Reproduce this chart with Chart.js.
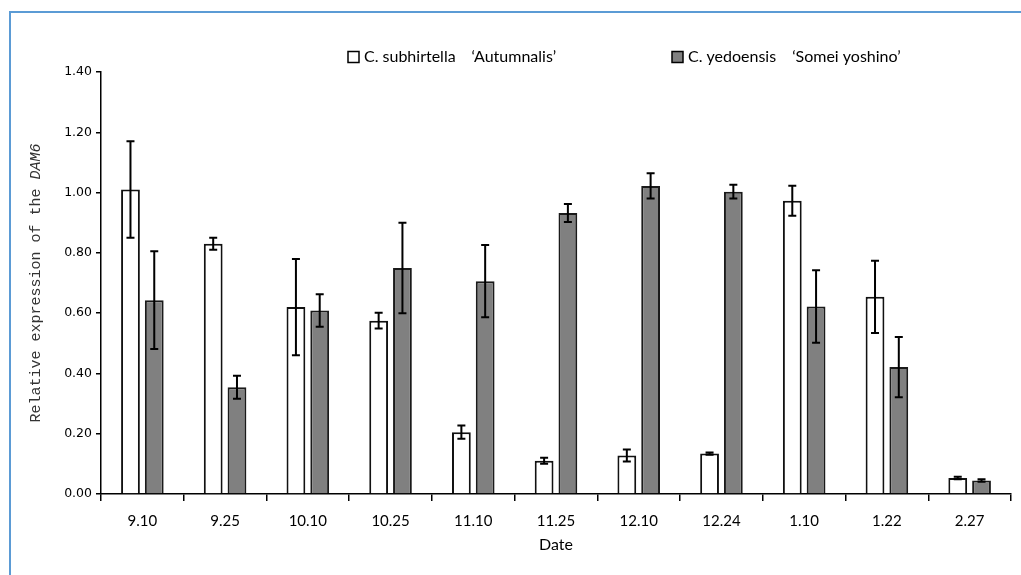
<!DOCTYPE html>
<html>
<head>
<meta charset="utf-8">
<script src="https://cdn.jsdelivr.net/npm/chart.js@4/dist/chart.umd.min.js"></script>
<style>
  html, body { margin: 0; padding: 0; background: #fff; }
  #wrap { position: relative; width: 1021px; height: 575px; overflow: hidden; }
  #frame { position: absolute; left: 9px; top: 11px; width: 1030px; height: 600px;
           border-top: 2px solid #5b9bd5; border-left: 2px solid #5b9bd5; box-sizing: border-box; }
  canvas { position: absolute; left: 0; top: 0; }
</style>
</head>
<body>
<div id="wrap">
  <div id="frame"></div>
  <canvas id="c" width="1021" height="575"></canvas>
</div>
<script>
const categories = ['9.10','9.25','10.10','10.25','11.10','11.25','12.10','12.24','1.10','1.22','2.27'];
const seriesNames = ['C. subhirtella\u3000\u2018Autumnalis\u2019', 'C. yedoensis\u3000\u2018Somei yoshino\u2019'];
const autumnalis = [1.01, 0.83, 0.62, 0.575, 0.205, 0.11, 0.128, 0.134, 0.973, 0.654, 0.053];
const autumnalisErr = [0.16, 0.02, 0.16, 0.026, 0.022, 0.01, 0.02, 0.004, 0.05, 0.12, 0.004];
const someiYoshino = [0.643, 0.354, 0.609, 0.75, 0.706, 0.932, 1.022, 1.003, 0.622, 0.421, 0.045];
const someiYoshinoErr = [0.162, 0.038, 0.054, 0.15, 0.12, 0.03, 0.042, 0.023, 0.12, 0.10, 0.004];
const yTitleMain = 'Relative expression of the ';
const yTitleItalic = 'DAM6';
const xTitle = 'Date';

const errorBars = {
  id: 'errorBars',
  afterDatasetsDraw(chart) {
    const ctx = chart.ctx;
    const ys = chart.scales.y;
    ctx.save();
    ctx.strokeStyle = '#000';
    ctx.lineWidth = 2;
    chart.data.datasets.forEach((ds, i) => {
      const meta = chart.getDatasetMeta(i);
      meta.data.forEach((el, j) => {
        const v = ds.data[j], e = ds.errors[j];
        const yt = ys.getPixelForValue(v + e);
        const yb = ys.getPixelForValue(v - e);
        const x = el.x;
        ctx.beginPath();
        ctx.moveTo(x, yt); ctx.lineTo(x, yb);
        ctx.moveTo(x - 4, yt); ctx.lineTo(x + 4, yt);
        ctx.moveTo(x - 4, yb); ctx.lineTo(x + 4, yb);
        ctx.stroke();
      });
    });
    ctx.restore();
  }
};

const yTitlePlugin = {
  id: 'yTitlePlugin',
  afterDraw(chart) {
    const ctx = chart.ctx;
    const a = chart.chartArea;
    ctx.save();
    ctx.translate(36, (a.top + a.bottom) / 2);
    ctx.rotate(-Math.PI / 2);
    ctx.fillStyle = '#333';
    ctx.textBaseline = 'middle';
    const f1 = '15px "Liberation Mono", monospace';
    const f2 = 'italic 15px "Liberation Mono", monospace';
    ctx.font = f1; const w1 = ctx.measureText(yTitleMain).width;
    ctx.font = f2; const w2 = ctx.measureText(yTitleItalic).width;
    let x = -(w1 + w2) / 2;
    ctx.font = f1; ctx.textAlign = 'left'; ctx.fillText(yTitleMain, x, 0);
    ctx.font = f2; ctx.fillText(yTitleItalic, x + w1, 0);
    ctx.restore();
  }
};

const legendPlugin = {
  id: 'legendPlugin',
  afterDraw(chart) {
    const ctx = chart.ctx;
    ctx.save();
    ctx.font = '16px Lato, "Open Sans", sans-serif';
    ctx.textBaseline = 'middle';
    ctx.textAlign = 'left';
    const starts = [348, 672];
    const yc = 57;
    chart.data.datasets.forEach((ds, i) => {
      const x = starts[i];
      ctx.fillStyle = ds.backgroundColor;
      ctx.fillRect(x, yc - 5.5, 11, 11);
      ctx.strokeStyle = '#000';
      ctx.lineWidth = 1.5;
      ctx.strokeRect(x, yc - 5.5, 11, 11);
      ctx.fillStyle = '#000';
      ctx.fillText(ds.label, x + 16, yc);
    });
    ctx.restore();
  }
};

new Chart(document.getElementById('c'), {
  type: 'bar',
  data: {
    labels: categories,
    datasets: [
      { label: seriesNames[0], data: autumnalis, errors: autumnalisErr,
        backgroundColor: '#ffffff', borderColor: '#111', borderWidth: 2,
        categoryPercentage: 0.575, barPercentage: 0.79 },
      { label: seriesNames[1], data: someiYoshino, errors: someiYoshinoErr,
        backgroundColor: '#808080', borderColor: '#1a1a1a', borderWidth: 2,
        categoryPercentage: 0.575, barPercentage: 0.79 }
    ]
  },
  options: {
    responsive: false,
    animation: false,
    devicePixelRatio: 1,
    layout: { padding: { left: 0, right: 10, top: 72, bottom: 0 } },
    plugins: { legend: { display: false }, tooltip: { enabled: false } },
    scales: {
      x: {
        grid: { drawOnChartArea: false, color: '#000', lineWidth: 1.5, tickLength: 7, offset: true },
        border: { color: '#000', width: 1.5 },
        ticks: { color: '#000', font: { family: 'Lato, "Open Sans", sans-serif', size: 15 }, padding: 11, maxRotation: 0 },
        title: { display: true, text: xTitle, color: '#000', font: { family: 'Lato, "Open Sans", sans-serif', size: 16 }, padding: { top: 4, bottom: 21 } },
        afterFit(scale) { scale.height = 81; }
      },
      y: {
        min: 0, max: 1.4,
        grid: { drawOnChartArea: false, color: '#000', lineWidth: 1.5, tickLength: 5 },
        border: { color: '#000', width: 1.5 },
        ticks: { stepSize: 0.2, color: '#000', padding: 4,
                 font: { family: '"DejaVu Sans", sans-serif', size: 12.5 },
                 callback: v => Number(v).toFixed(2) },
        afterFit(scale) { scale.width = 101; }
      }
    }
  },
  plugins: [errorBars, yTitlePlugin, legendPlugin]
});
</script>
</body>
</html>
